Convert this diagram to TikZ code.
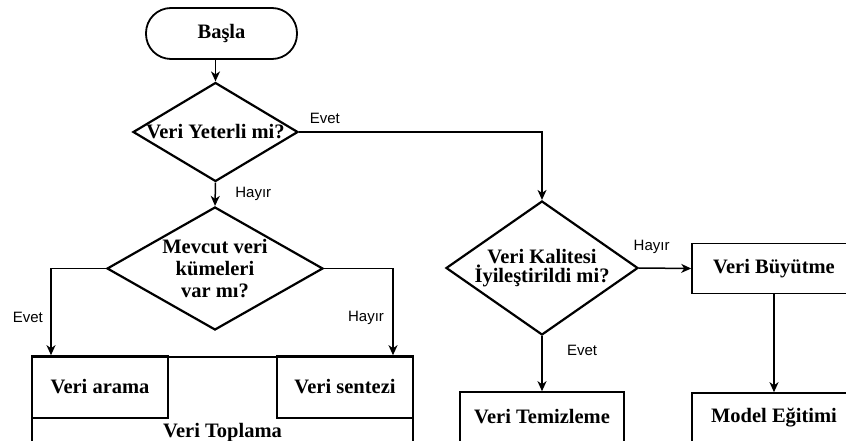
\documentclass[tikz,border=0pt]{standalone}
\usepackage{fontspec}
\setmainfont{Liberation Serif}
\setsansfont{Liberation Sans}
\usetikzlibrary{arrows.meta,shapes.geometric}

\tikzset{
	boxtext/.style={align=center,font=\fontsize{20.5}{22}\selectfont\bfseries},
	box/.style={boxtext,draw,line width=1.6pt,minimum width=164pt,minimum height=50pt},
	decision/.style={draw,diamond,line width=2.2pt,inner sep=0pt},
	yesno/.style={font=\sffamily\fontsize{15}{17}\selectfont},
	flow/.style={line width=1.5pt,-{Stealth[length=10pt,width=9pt,inset=3pt]}}
}

\begin{document}
\begin{tikzpicture}[x=1pt,y=-1pt]
	\useasboundingbox (0,0) rectangle (846,441);
	\clip (0,0) rectangle (846,441);
	% top
	\node[boxtext,draw,line width=1.8pt,rounded corners=25pt,minimum width=151pt,minimum height=51pt] (start) at (221.5,33.5) {Başla};
	\node[decision,minimum width=165pt,minimum height=99pt,label={[boxtext]center:Veri Yeterli mi?}] (d1) at (215.5,132) {};
	% left branch
	\node[decision,minimum width=216pt,minimum height=123pt,label={[boxtext]center:Mevcut veri\\kümeleri\\var mı?}] (d2) at (215,268.5) {};
	\node[box,minimum width=381pt,minimum height=120pt,anchor=north] (toplama) at (222.5,356) {};
	\node[box,minimum width=136pt,minimum height=62pt] (arama) at (100,387) {Veri arama};
	\node[box,minimum width=136pt,minimum height=62pt] (sentez) at (345,387) {Veri sentezi};
	\node[boxtext,anchor=base] (toplama-t) at (222.5,437) {Veri Toplama};
	% right branch
	\node[decision,minimum width=192pt,minimum height=134pt,label={[boxtext,font=\fontsize{20.5}{19.5}\selectfont\bfseries]center:Veri Kalitesi\\İyileştirildi mi?}] (d3) at (542,268) {};
	\node[box] (buyut) at (774,268.5) {Veri Büyütme};
	\node[box] (temiz) at (542,417) {Veri Temizleme};
	\node[box] (model) at (774,418) {Model Eğitimi};

	\draw[flow] (d1.north |- start.south) -- (d1.north);
	\draw[flow] (d1.south) -- node[yesno,right=16pt] (l1) {Hayır} (d2.north);
	\draw[flow] (d1.east) -| node[yesno,pos=0.053,above=4pt] (l2) {Evet} (d3.north);
	\draw[flow] (d2.west) -| node[yesno,pos=0.783,left=4pt] (l3) {Evet} ([xshift=-49pt]arama.north);
	\draw[flow] (d2.east) -| node[yesno,pos=0.783,left=5pt] (l4) {Hayır} ([xshift=48pt]sentez.north);
	\draw[flow] (d3.east) -- node[yesno,pos=0.24,above=10pt] (l5) {Hayır} (buyut.west);
	\draw[flow] (d3.south) -- node[yesno,pos=0.26,right=21pt] (l6) {Evet} (temiz.north);
	\draw[flow] (buyut.south) -- (model.north);
\end{tikzpicture}
\end{document}
